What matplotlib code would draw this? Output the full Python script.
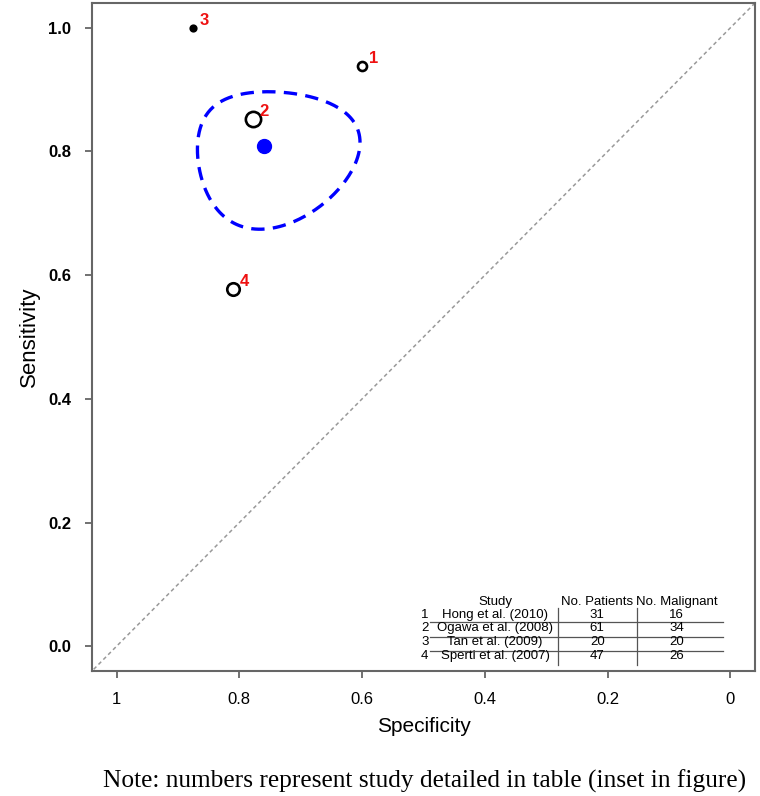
import numpy as np
import matplotlib
matplotlib.use("Agg")
import matplotlib.pyplot as plt

# Study estimates
study_ids = ["1", "2", "3", "4"]
specificity = [0.600, 0.778, 0.875, 0.810]
sensitivity = [0.9375, 0.853, 1.0, 0.577]
marker_size = [6.5, 11, 4, 9]
marker_filled = [False, False, True, False]

# Summary point and confidence region (logit scale)
summary_spec = 0.760
summary_sens = 0.809
region_sd_fpr = 0.733
region_sd_sens = 0.716
region_rho = 0.05

# Inset table
table_header = ["Study", "No. Patients", "No. Malignant"]
table_studies = ["Hong et al. (2010)", "Ogawa et al. (2008)", "Tan et al. (2009)", "Sperti et al. (2007)"]
table_patients = [31, 61, 20, 47]
table_malignant = [16, 34, 20, 26]

xticks = [1, 0.8, 0.6, 0.4, 0.2, 0]
xtick_labels = ["1", "0.8", "0.6", "0.4", "0.2", "0"]
yticks = [0.0, 0.2, 0.4, 0.6, 0.8, 1.0]

plt.rcParams['font.family'] = ['Liberation Sans', 'DejaVu Sans']
frame_col = "#666666"

fig = plt.figure(figsize=(7.6, 7.96), dpi=100)
ax = fig.add_axes([92 / 760, 1 - 671 / 796, 663 / 760, 668 / 796])
ax.set_xlim(1.04, -0.04)
ax.set_ylim(-0.04, 1.04)

# chance line
ax.axline((1, 0), (0, 1), color="#999999", lw=1.1, dashes=(2.5, 2), zorder=1)

# confidence region: ellipse in logit space, back-transformed
def logit(p):
    return np.log(p / (1 - p))

cov = np.array([[region_sd_fpr ** 2, region_rho * region_sd_fpr * region_sd_sens],
                [region_rho * region_sd_fpr * region_sd_sens, region_sd_sens ** 2]])
L = np.linalg.cholesky(cov)
t = np.linspace(0, 2 * np.pi, 300)
z = L @ np.vstack([np.cos(t), np.sin(t)])
fpr_c = 1 / (1 + np.exp(-(logit(1 - summary_spec) + z[0])))
sens_c = 1 / (1 + np.exp(-(logit(summary_sens) + z[1])))
ax.plot(1 - fpr_c, sens_c, color="#0000FF", lw=2.4, dashes=(4, 2.5), zorder=2)

ax.plot([summary_spec], [summary_sens], "o", color="#0000FF", ms=10, zorder=3)

# study points with red numbers
for sid, sp, se, ms, filled in zip(study_ids, specificity, sensitivity, marker_size, marker_filled):
    ax.plot([sp], [se], "o", ms=ms, mec="black", mew=1.9,
            mfc="black" if filled else "white", zorder=4)
    ax.annotate(sid, (sp, se), xytext=(8, 5.5), textcoords="offset points",
                ha="center", va="center", color="#EE1111", fontsize=12,
                fontweight="bold", zorder=5)

# axes styling
for s in ax.spines.values():
    s.set_color(frame_col)
    s.set_linewidth(1.5)
ax.set_xticks(xticks)
ax.set_xticklabels(xtick_labels, fontsize=12)
ax.set_yticks(yticks)
ax.set_yticklabels([f"{v:.1f}" for v in yticks], fontsize=12, fontweight="bold")
ax.tick_params(axis="both", direction="out", length=5, width=1.3, color=frame_col)
ax.tick_params(axis="y", pad=10)
ax.tick_params(axis="x", pad=10)
ax.set_xlabel("Specificity", fontsize=15, labelpad=7)
ax.set_ylabel("Sensitivity", fontsize=16, labelpad=6)

# inset table (axes fraction coordinates)
tr = ax.transAxes
fs = 9.5
col_x = [0.608, 0.762, 0.882]
row_y = [0.0838, 0.0644, 0.0434, 0.0225]
for x, h in zip(col_x, table_header):
    ax.text(x, 0.1037, h, transform=tr, ha="center", va="center", fontsize=fs)
for i, (sid, name, npat, nmal) in enumerate(zip(study_ids, table_studies, table_patients, table_malignant)):
    ax.text(0.502, row_y[i], sid, transform=tr, ha="center", va="center", fontsize=fs)
    ax.text(col_x[0], row_y[i], name, transform=tr, ha="center", va="center", fontsize=fs)
    ax.text(col_x[1], row_y[i], str(npat), transform=tr, ha="center", va="center", fontsize=fs)
    ax.text(col_x[2], row_y[i], str(nmal), transform=tr, ha="center", va="center", fontsize=fs)
for y in [0.0734, 0.0509, 0.0299]:
    ax.plot([0.510, 0.952], [y, y], transform=tr, color="#555555", lw=0.9)
for x in [0.703, 0.822]:
    ax.plot([x, x], [0.0943, 0.009], transform=tr, color="#555555", lw=0.9)

fig.text(425 / 760, 1 - 781 / 796, "Note: numbers represent study detailed in table (inset in figure)",
         ha="center", va="center", fontsize=18.3, family=["Liberation Serif", "DejaVu Serif"])

fig.savefig("out.png", dpi=100)
